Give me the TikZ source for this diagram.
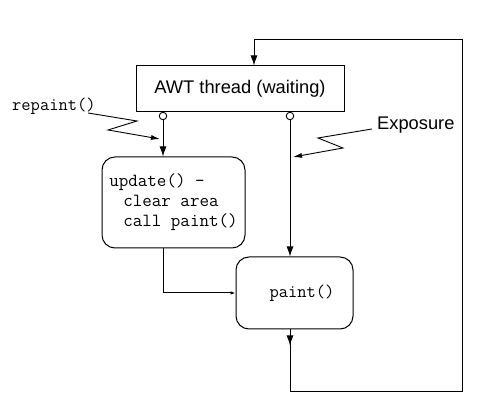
\documentclass[tikz,border=0pt]{standalone}
\usepackage{fontspec}
\setmainfont{Liberation Sans}
\usetikzlibrary{arrows.meta,decorations.markings}
\tikzset{
  line/.style={line width=1pt},
  mainarrow/.style={line, -{Latex[length=10pt,width=7pt]}},
  zigarrow/.style={line width=0.9pt, -{Latex[length=9pt,width=5pt]}},
  smallarrow/.style={line, -{Latex[length=5pt,width=3.5pt]}},
  sqbox/.style={draw, line width=1pt, rectangle, inner sep=0pt},
  rbox/.style={draw, line width=1pt, rectangle, rounded corners=13pt, inner sep=0pt},
  port/.style={draw, line width=0.9pt, circle, fill=white, minimum size=7.5pt, inner sep=0pt},
  codetxt/.style={font=\ttfamily\fontsize{18}{20}\selectfont},
  sanstxt/.style={font=\fontsize{18.3}{21}\selectfont},
}
\begin{document}
\begin{tikzpicture}[x=1pt,y=-1pt]
\fill[white] (0,0) rectangle (490,411);
\useasboundingbox (0,0) rectangle (490,411);

\node[sqbox, minimum width=208pt, minimum height=46pt, sanstxt] (awt) at (240,89) {AWT thread (waiting)};
\node[rbox, minimum width=143pt, minimum height=91pt, align=left,
      font=\ttfamily\fontsize{18.5}{20}\selectfont] (update) at (173.5,202.5)
      {update() -\\\hspace*{14pt}clear area\\\hspace*{14pt}call paint()};
\node[rbox, minimum width=117pt, minimum height=72pt, codetxt] (paint) at (294.5,293) {\hspace*{15pt}paint()};

\node[port] (c1) at (163,116) {};
\node[port] (c2) at (290,116) {};

\node[codetxt, anchor=base west, inner sep=0pt] (rep) at (12,111) {repaint()};
\node[sanstxt, anchor=base west, inner sep=0pt] (expo) at (377,129.5) {Exposure};

% AWT to ports
\draw[line] (c1 |- awt.south) -- (c1.north);
\draw[line] (c2 |- awt.south) -- (c2.north);

% port arrows
\draw[mainarrow] (c1.south) -- (c1 |- update.north);
\draw[mainarrow] (c2.south) -- (c2 |- paint.north);

% update -> paint
\coordinate (u1) at (163,293);
\draw[smallarrow] (c1 |- update.south) -- (u1) -- (paint.west);

% loop back
\coordinate (l1) at (290,392);
\coordinate (l2) at (462,392);
\coordinate (l3) at (462,40);
\coordinate (l4) at (254,40);
\draw[mainarrow, postaction={decorate},
      decoration={markings, mark=at position 16pt with {\arrow{Latex[length=10pt,width=7pt]}}}]
  (c2 |- paint.south) -- (l1) -- (l2) -- (l3) -- (l4) -- (l4 |- awt.north);

% lightning arrows
\coordinate (r1) at (88,113);
\coordinate (r2) at (137,121);
\coordinate (r3) at (108,130);
\coordinate (r4) at (160,139);
\draw[zigarrow] (r1) -- (r2) -- (r3) -- (r4);

\coordinate (e1) at (372,129);
\coordinate (e2) at (318,138);
\coordinate (e3) at (343,148);
\coordinate (e4) at (293,157);
\draw[zigarrow] (e1) -- (e2) -- (e3) -- (e4);
\end{tikzpicture}
\end{document}
